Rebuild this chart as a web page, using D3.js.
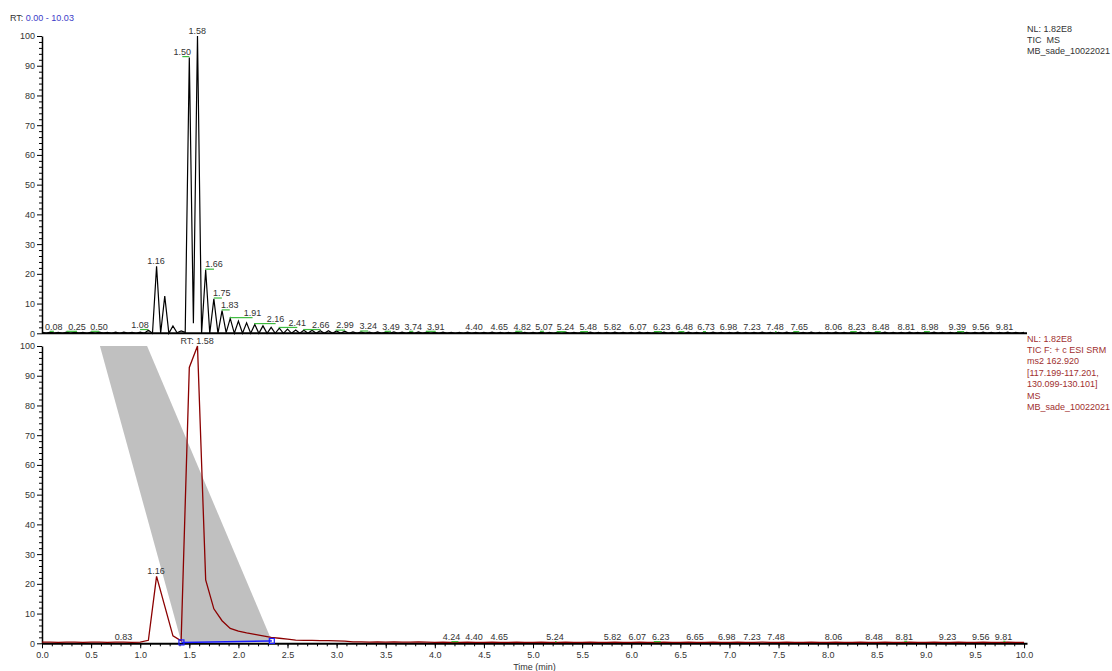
<!DOCTYPE html>
<html>
<head>
<meta charset="utf-8">
<script src="https://cdn.jsdelivr.net/npm/d3@7"></script>
<style>
  body { margin: 0; background: #fff; }
  svg text { font-family: "Liberation Sans", Arial, sans-serif; font-size: 9px; }
</style>
</head>
<body>
<svg id="chart" width="1112" height="671"></svg>
<script>
// ---------- data ----------
// SRM scan intensities (relative abundance, %), one scan every 1/12 min, 0.00 .. 10.00 min
const srmTimeStep = 1 / 12;
const srmValues = [
  0.4, 0.4, 0.3, 0.4, 0.4, 0.3, 0.4, 0.4, 0.3, 0.4, 0.4, 0.3, 0.4,
  1.0, 22.5, 12.5, 2.5, 0.8, 92.8, 100, 21.3, 11.6, 7.6, 5.0, 4.1,
  3.5, 3.0, 2.5, 2.0, 1.7, 1.4, 1.1, 1.0, 1.0, 0.9, 0.9, 0.8, 0.7, 0.5,
  0.5, 0.4, 0.5, 0.4, 0.5, 0.4, 0.4, 0.5, 0.4,
  0.3, 0.4, 0.3, 0.3, 0.4, 0.3, 0.3, 0.4, 0.3, 0.3, 0.4, 0.3,
  0.3, 0.4, 0.3, 0.3, 0.4, 0.3, 0.3, 0.4, 0.3, 0.3, 0.4, 0.3,
  0.3, 0.4, 0.3, 0.3, 0.4, 0.3, 0.3, 0.4, 0.3, 0.3, 0.4, 0.3,
  0.3, 0.4, 0.3, 0.3, 0.4, 0.3, 0.3, 0.4, 0.3, 0.3, 0.4, 0.3,
  0.3, 0.4, 0.3, 0.3, 0.4, 0.3, 0.3, 0.4, 0.3, 0.3, 0.4, 0.3,
  0.3, 0.4, 0.3, 0.3, 0.4, 0.3, 0.3, 0.4, 0.3, 0.3, 0.4, 0.3,
  0.3
];
// Interleaved second scan event, at (k + 0.5) / 12 min
const otherScanValues = [
  0.0, 0.1, 0.0, 0.0, 0.1, 0.0, 0.0, 0.1, 0.0, 0.0, 0.1, 0.0,
  0.0, 0.0, 0.1, 0.0, 0.2, 0.3, 3.4, 0.0, 0.0, 0.0, 0.2, 0.0,
  0.0, 0.0, 0.0, 0.0, 0.0, 0.0, 0.0, 0.0, 0.0, 0.0, 0.0, 0.0,
  0.0, 0.0, 0.0, 0.0, 0.0, 0.0, 0.0, 0.0, 0.0, 0.0, 0.0, 0.0,
  0.0, 0.0, 0.0, 0.0, 0.0, 0.0, 0.0, 0.0, 0.0, 0.0, 0.0, 0.0,
  0.0, 0.0, 0.0, 0.0, 0.0, 0.0, 0.0, 0.0, 0.0, 0.0, 0.0, 0.0,
  0.0, 0.0, 0.0, 0.0, 0.0, 0.0, 0.0, 0.0, 0.0, 0.0, 0.0, 0.0,
  0.0, 0.0, 0.0, 0.0, 0.0, 0.0, 0.0, 0.0, 0.0, 0.0, 0.0, 0.0,
  0.0, 0.0, 0.0, 0.0, 0.0, 0.0, 0.0, 0.0, 0.0, 0.0, 0.0, 0.0,
  0.0, 0.0, 0.0, 0.0, 0.0, 0.0, 0.0, 0.0, 0.0, 0.0, 0.0, 0.0
];

// Peak retention-time labels (min)
const topLabelRT = [0.08, 0.25, 0.50, 1.08, 1.16, 1.50, 1.58, 1.66, 1.75, 1.83, 1.91, 2.16, 2.41,
  2.66, 2.99, 3.24, 3.49, 3.74, 3.91, 4.40, 4.65, 4.82, 5.07, 5.24, 5.48, 5.82, 6.07, 6.23, 6.48,
  6.73, 6.98, 7.23, 7.48, 7.65, 8.06, 8.23, 8.48, 8.81, 8.98, 9.39, 9.56, 9.81];
const bottomLabelRT = [0.83, 1.16, 1.58, 4.24, 4.40, 4.65, 5.24, 5.82, 6.07, 6.23, 6.65, 6.98,
  7.23, 7.48, 8.06, 8.48, 8.81, 9.23, 9.56, 9.81];
const bottomApexRT = 1.58;

// Integrated peak: baseline start/end (min, %) and the shaded guide band
const integrationStart = [1.42, 0.3];
const integrationEnd = [2.34, 0.8];
const guideBand = [[0.59, 100], [1.07, 100], [2.34, 0.8], [1.42, 0.3]];

// Axis ticks
const yMajorTicks = [0, 10, 20, 30, 40, 50, 60, 70, 80, 90, 100];
const yMinorTicks = [2, 4, 6, 8, 12, 14, 16, 18, 22, 24, 26, 28, 32, 34, 36, 38, 42, 44, 46, 48,
  52, 54, 56, 58, 62, 64, 66, 68, 72, 74, 76, 78, 82, 84, 86, 88, 92, 94, 96, 98];
const xMajorTicks = [0, 0.5, 1, 1.5, 2, 2.5, 3, 3.5, 4, 4.5, 5, 5.5, 6, 6.5, 7, 7.5, 8, 8.5, 9, 9.5, 10];

// Header texts
const rangeText = ["RT: ", "0.00 - 10.03"];
const topInfo = ["NL: 1.82E8", "TIC  MS", "MB_sade_10022021"];
const bottomInfo = ["NL: 1.82E8", "TIC F: + c ESI SRM", "ms2 162.920", "[117.199-117.201,",
  "130.099-130.101]", "MS", "MB_sade_10022021"];

// ---------- layout ----------
// horizontal nudges (px) of label text away from its peak to avoid overlaps
const topLabelDx = [4, 10.5, 8, -8, 0, -7, 0, 9, 8, 8, 23, 21.5, 18.6, 17.5, 9.4, 8, 6.3, 4, 9.7,
  0, 0.7, 7, 4, 9, 8, -1, 0, 8, 6, 3, 1, 0, -1.5, 6, 0, 6.5, 6, -1, 6, -7, 0, -1];
const bottomLabelDx = [0, 0, 0, -7, 0, 0.7, -1.6, -1, -0.8, 7, 0, -0.7, 0, -0.5, 0, -0.7, -3, -1, 0, -2];

const svg = d3.select("#chart");
const x = d3.scaleLinear().domain([0, 10.03]).range([42, 1027]);
const yTop = d3.scaleLinear().domain([0, 100]).range([333.3, 36]);
const yBot = d3.scaleLinear().domain([0, 100]).range([643.3, 346]);

const textColor = "#333";
const traceRed = "#8b0000";
const infoRed = "#a0302f";
const labelGreen = "#3dbb3d";

// full TIC: SRM scans interleaved with the second scan event
const srmSeries = srmValues.map((v, k) => ({ t: k * srmTimeStep, v }));
const ticSeries = [];
srmValues.forEach((v, k) => {
  ticSeries.push({ t: k * srmTimeStep, v });
  if (k < otherScanValues.length) ticSeries.push({ t: (k + 0.5) * srmTimeStep, v: otherScanValues[k] });
});
const valueAt = rt => srmValues[Math.round(rt / srmTimeStep)];

// ---------- y axes ----------
function yAxis(scale) {
  const g = svg.append("g").attr("transform", "translate(42,0)");
  g.append("g").call(d3.axisLeft(scale).tickValues(yMinorTicks).tickSize(3).tickFormat("").tickSizeOuter(0))
    .call(s => s.select(".domain").remove());
  g.append("g").call(d3.axisLeft(scale).tickValues(yMajorTicks).tickSize(5).tickPadding(2).tickSizeOuter(0))
    .call(s => s.select(".domain").attr("stroke-width", 1.5));
  g.selectAll("line").attr("stroke", "#000");
  g.selectAll("text").attr("fill", textColor).style("font-size", "9px")
    .style("font-family", '"Liberation Sans", Arial, sans-serif');
}
yAxis(yTop);
yAxis(yBot);

// top panel baseline
svg.append("line").attr("x1", x(0)).attr("x2", x(10.03))
  .attr("y1", yTop(0)).attr("y2", yTop(0)).attr("stroke", "#000").attr("stroke-width", 2);

// bottom x axis
const xg = svg.append("g").attr("transform", `translate(0,${yBot(0)})`);
xg.append("g").call(d3.axisBottom(x).ticks(100).tickSize(3).tickFormat("").tickSizeOuter(0))
  .call(s => s.select(".domain").remove());
xg.append("g").call(d3.axisBottom(x).tickValues(xMajorTicks).tickSize(5).tickPadding(3)
  .tickFormat(d3.format(".1f")).tickSizeOuter(0))
  .call(s => s.select(".domain").attr("stroke-width", 2));
xg.selectAll("line").attr("stroke", "#000");
xg.selectAll("text").attr("fill", textColor).style("font-size", "9px")
  .style("font-family", '"Liberation Sans", Arial, sans-serif');

svg.append("text").attr("x", (x(0) + x(10.03)) / 2).attr("y", 670)
  .attr("text-anchor", "middle").attr("fill", textColor).text("Time (min)");

// ---------- top panel: TIC ----------
const line = yScale => d3.line().x(d => x(d.t)).y(d => yScale(d.v));
svg.append("path").datum(ticSeries).attr("d", line(yTop))
  .attr("fill", "none").attr("stroke", "#000").attr("stroke-width", 1.2).attr("stroke-linejoin", "miter");

// ---------- bottom panel: SRM trace ----------
svg.append("path").datum(guideBand)
  .attr("d", d3.line().x(d => x(d[0])).y(d => yBot(d[1]))(guideBand) + "Z")
  .attr("fill", "#c0c0c0").attr("stroke", "none");

svg.append("path").datum(srmSeries).attr("d", line(yBot))
  .attr("fill", "none").attr("stroke", traceRed).attr("stroke-width", 1.3);

// integration baseline with end markers
svg.append("line")
  .attr("x1", x(integrationStart[0])).attr("y1", yBot(integrationStart[1]))
  .attr("x2", x(integrationEnd[0])).attr("y2", yBot(integrationEnd[1]))
  .attr("stroke", "#1a1aff").attr("stroke-width", 1.5);
svg.selectAll("rect.marker").data([integrationStart, integrationEnd]).join("rect")
  .attr("class", "marker")
  .attr("x", d => x(d[0]) - 2.5).attr("y", d => yBot(d[1]) - 2.5)
  .attr("width", 5).attr("height", 5)
  .attr("fill", "none").attr("stroke", "#1a1aff").attr("stroke-width", 1.2);

// ---------- peak labels ----------
function peakLabels(rts, dxs, yScale, textFor) {
  rts.forEach((rt, i) => {
    const px = x(rt), lx = px + dxs[i], py = yScale(valueAt(rt));
    if (Math.abs(dxs[i]) > 1) {
      svg.append("line").attr("x1", Math.min(px, lx)).attr("x2", Math.max(px, lx))
        .attr("y1", py - 0.8).attr("y2", py - 0.8)
        .attr("stroke", labelGreen).attr("stroke-width", 1.2);
    }
    svg.append("text").attr("x", lx).attr("y", py - 2.5)
      .attr("text-anchor", "middle").attr("fill", textColor).text(textFor(rt));
  });
}
peakLabels(topLabelRT, topLabelDx, yTop, rt => rt.toFixed(2));
peakLabels(bottomLabelRT, bottomLabelDx, yBot,
  rt => (rt === bottomApexRT ? "RT: " : "") + rt.toFixed(2));

// ---------- header texts ----------
const rt = svg.append("text").attr("x", 10).attr("y", 20.5).attr("fill", textColor);
rt.append("tspan").text(rangeText[0]);
rt.append("tspan").attr("fill", "#3c3cc8").text(rangeText[1]);

svg.selectAll("text.topinfo").data(topInfo).join("text").attr("class", "topinfo")
  .attr("x", 1027).attr("y", (d, i) => 32 + i * 11.2).attr("fill", textColor)
  .style("white-space", "pre").text(d => d);
svg.selectAll("text.botinfo").data(bottomInfo).join("text").attr("class", "botinfo")
  .attr("x", 1027).attr("y", (d, i) => 341.5 + i * 11.4).attr("fill", infoRed)
  .text(d => d);
</script>
</body>
</html>
